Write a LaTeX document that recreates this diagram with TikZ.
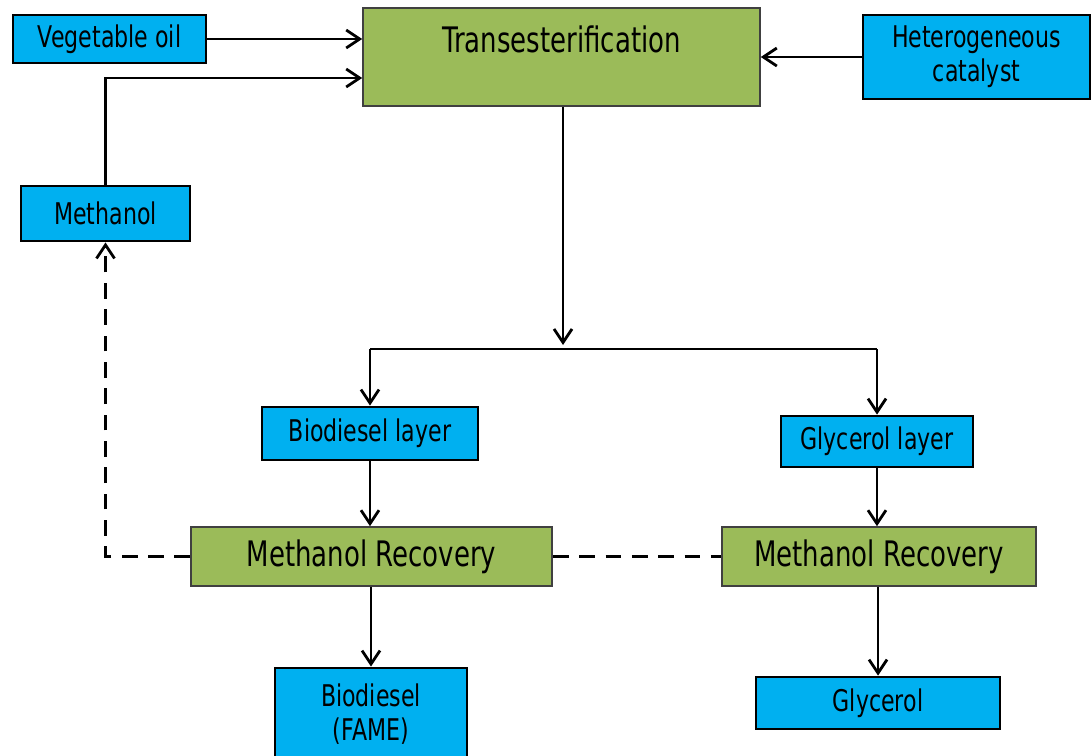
\documentclass[tikz,border=0pt]{standalone}
\usepackage{fontspec}
\setmainfont{DejaVu Sans}[FakeStretch=0.74]
\usepackage{tikz}
\usetikzlibrary{arrows.meta,calc}
\definecolor{boxblue}{HTML}{00B0F0}
\definecolor{boxgreen}{HTML}{9BBB59}

\begin{document}
\begin{tikzpicture}[x=0.02cm,y=-0.02cm,
    feed/.style={draw=black,line width=1.6pt,fill=boxblue,inner sep=0pt,
      font=\fontsize{17}{19.5}\selectfont,align=center},
    stage/.style={draw=black!75,line width=0.9pt,fill=boxgreen,inner sep=0pt,
      font=\fontsize{20}{22}\selectfont,align=center},
    flow/.style={line width=1.6pt,-{Straight Barb[length=0.27cm,width=0.36cm,line width=1.6pt]}},
    link/.style={line width=1.6pt},
    back/.style={line width=1.6pt,dash pattern=on 9pt off 6pt}]
  \useasboundingbox (0,0) rectangle (1091,755);
  \node[feed,minimum width=193*0.02cm,minimum height=48*0.02cm] (veg) at (109.5,39) {Vegetable oil};
  \node[stage,minimum width=397*0.02cm,text height=25pt,text depth=30.5pt] (trans) at (561.5,57) {Transesterification};
  \node[feed,minimum width=227*0.02cm,minimum height=84*0.02cm] (cat) at (976.5,57) {Heterogeneous\\catalyst};
  \node[feed,minimum width=169*0.02cm,minimum height=55*0.02cm] (meth) at (105.5,213.5) {Methanol};
  \node[feed,minimum width=216*0.02cm,minimum height=53*0.02cm] (biolay) at (370,433.5) {Biodiesel layer};
  \node[feed,minimum width=192*0.02cm,minimum height=51*0.02cm] (glylay) at (877,441.5) {Glycerol layer};
  \node[stage,minimum width=361*0.02cm,minimum height=59*0.02cm] (recl) at (371.5,556.5) {Methanol Recovery};
  \node[stage,minimum width=314*0.02cm,minimum height=59*0.02cm] (recr) at (879,556.5) {Methanol Recovery};
  \node[feed,minimum width=192*0.02cm,minimum height=92*0.02cm] (fame) at (371,714) {Biodiesel\\(FAME)};
  \node[feed,minimum width=244*0.02cm,minimum height=52*0.02cm] (gly) at (878,703) {Glycerol};
  \coordinate (fork) at (563,349);
  % feeds into the reactor
  \draw[flow] (veg.east) -- (trans.west |- veg.east);
  \draw[flow] (meth.north) |- ([yshift=-0.42cm]trans.west);
  \draw[flow] (cat.west) -- (trans.east);
  % split into two layers
  \draw[flow] (trans.south -| fork) -- ([yshift=0.08cm]fork);
  \draw[link] (biolay.north |- fork) -- (glylay.north |- fork);
  \draw[flow] (biolay.north |- fork) -- (biolay.north);
  \draw[flow] (glylay.north |- fork) -- (glylay.north);
  \draw[flow] (biolay.south) -- (biolay.south |- recl.north);
  \draw[flow] (fame.north |- recl.south) -- (fame.north);
  \draw[flow] (glylay.south) -- (glylay.south |- recr.north);
  \draw[flow] (gly.north |- recr.south) -- (gly.north);
  % methanol recycle
  \draw[back,-{Straight Barb[length=0.27cm,width=0.36cm,line width=1.6pt]}] (recl.west) -| (meth.south);
  \draw[back] (recl.east) -- (recr.west);
\end{tikzpicture}
\end{document}
